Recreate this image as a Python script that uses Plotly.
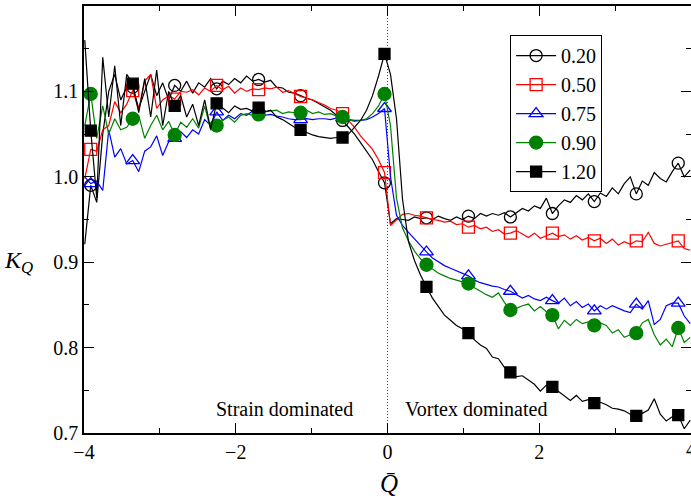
import numpy as np
import plotly.graph_objects as go

# Q-bar grid of the curves (markers sit on every 7th sample starting at index 1)
q_line = np.round(np.linspace(-3.99, 3.99, 102), 4)
MARK_START, MARK_STEP = 1, 7

labels = ["0.20", "0.50", "0.75", "0.90", "1.20"]

k_020 = [0.921, 0.99, 0.97, 1.05, 1.1, 1.12, 1.09, 1.105, 1.105, 1.08,
         1.1, 1.12, 1.095, 1.11, 1.09, 1.107, 1.1, 1.112, 1.098, 1.11,
         1.105, 1.115, 1.103, 1.112, 1.108, 1.115, 1.11, 1.118, 1.112, 1.114,
         1.111, 1.113, 1.105, 1.104, 1.099, 1.098, 1.095, 1.092, 1.09, 1.086,
         1.082, 1.078, 1.072, 1.066, 1.058, 1.05, 1.04, 1.03, 1.02, 1.006,
         0.993, 0.945, 0.951, 0.95, 0.949, 0.953, 0.951, 0.952, 0.95, 0.954,
         0.951, 0.949, 0.953, 0.95, 0.954, 0.951, 0.957, 0.954, 0.957, 0.955,
         0.958, 0.953, 0.958, 0.963, 0.96, 0.966, 0.963, 0.975, 0.957, 0.966,
         0.973, 0.97, 0.978, 0.973, 0.98, 0.971, 0.981, 0.977, 0.987, 0.98,
         0.992, 1.0, 0.98, 0.995, 0.99, 1.005, 0.998, 0.994, 1.006, 1.016,
         1.0, 1.008]

k_050 = [0.998, 1.032, 1.03, 1.055, 1.06, 1.088, 1.075, 1.085, 1.101, 1.078,
         1.112, 1.12, 1.08, 1.09, 1.095, 1.091, 1.1, 1.099, 1.102, 1.096,
         1.104, 1.1, 1.107, 1.102, 1.106, 1.098, 1.104, 1.1, 1.103, 1.102,
         1.104, 1.103, 1.105, 1.099, 1.101, 1.097, 1.094, 1.092, 1.09, 1.087,
         1.084, 1.08, 1.078, 1.074, 1.066, 1.058, 1.048, 1.04, 1.032, 1.02,
         1.005, 0.943, 0.95, 0.956, 0.957, 0.955, 0.954, 0.952, 0.95, 0.949,
         0.947, 0.948, 0.944, 0.945, 0.941, 0.943, 0.939, 0.941, 0.936, 0.938,
         0.933, 0.934, 0.937, 0.933, 0.929, 0.934, 0.928, 0.931, 0.934, 0.93,
         0.932, 0.927, 0.931, 0.926, 0.929, 0.925, 0.928, 0.922, 0.927, 0.92,
         0.924, 0.921, 0.925, 0.924, 0.935, 0.922, 0.919, 0.921, 0.923, 0.925,
         0.916, 0.914]

k_075 = [1.0, 0.992, 0.995, 0.984, 1.055, 1.023, 1.033, 1.015, 1.019, 1.006,
         1.03, 1.035, 1.048, 1.025, 1.041, 1.045, 1.053, 1.046, 1.055, 1.05,
         1.067, 1.06, 1.076, 1.066, 1.072, 1.068, 1.074, 1.072, 1.077, 1.08,
         1.072, 1.073, 1.071, 1.07, 1.068, 1.067, 1.067, 1.068, 1.067, 1.068,
         1.068, 1.067, 1.069, 1.069, 1.067, 1.066, 1.066, 1.067, 1.07, 1.074,
         1.08, 1.0, 0.955, 0.943, 0.935, 0.927, 0.92, 0.912, 0.905, 0.9,
         0.896, 0.893, 0.89, 0.887, 0.884, 0.879, 0.876, 0.874, 0.872, 0.871,
         0.868, 0.866, 0.862, 0.858, 0.861, 0.857, 0.855, 0.859, 0.855, 0.852,
         0.858, 0.849, 0.854, 0.847, 0.851, 0.843, 0.849, 0.845, 0.849, 0.846,
         0.843, 0.841, 0.851, 0.845, 0.855, 0.827, 0.833, 0.849, 0.852, 0.852,
         0.837, 0.828]

k_090 = [1.06, 1.097, 1.045, 1.083, 1.05, 1.068, 1.055, 1.058, 1.068, 1.072,
         1.045, 1.06, 1.072, 1.055, 1.065, 1.049, 1.064, 1.058, 1.068, 1.057,
         1.083, 1.055, 1.06, 1.066, 1.07, 1.064, 1.072, 1.074, 1.072, 1.073,
         1.076, 1.077, 1.078, 1.074, 1.076, 1.075, 1.075, 1.078, 1.074, 1.076,
         1.073, 1.074, 1.071, 1.07, 1.067, 1.065, 1.066, 1.068, 1.074, 1.083,
         1.097, 1.06, 0.975, 0.94, 0.925, 0.913, 0.904, 0.897, 0.892, 0.887,
         0.884, 0.881, 0.879, 0.877, 0.875, 0.87, 0.866, 0.862, 0.859, 0.864,
         0.853, 0.844, 0.846, 0.849, 0.851, 0.843, 0.848, 0.842, 0.838, 0.822,
         0.832, 0.826, 0.833, 0.828, 0.83, 0.826, 0.829, 0.826, 0.817, 0.821,
         0.812, 0.815, 0.817, 0.829, 0.833, 0.815, 0.803, 0.81, 0.801, 0.823,
         0.806, 0.812]

k_120 = [1.16, 1.054, 0.975, 1.14, 1.07, 1.13, 1.06, 1.12, 1.109, 1.075,
         1.115, 1.07, 1.125, 1.06, 1.1, 1.083, 1.095, 1.07, 1.085, 1.06,
         1.09, 1.056, 1.086, 1.08, 1.075, 1.083, 1.079, 1.08, 1.077, 1.081,
         1.076, 1.078, 1.07, 1.067, 1.063, 1.058, 1.055, 1.052, 1.049, 1.047,
         1.046, 1.045, 1.046, 1.046, 1.05, 1.058, 1.066, 1.078, 1.095, 1.118,
         1.144, 1.12, 1.068, 0.974, 0.924, 0.902, 0.885, 0.871, 0.858, 0.848,
         0.838, 0.832, 0.826, 0.822, 0.817, 0.809, 0.803, 0.799, 0.789, 0.787,
         0.777, 0.771, 0.766, 0.767, 0.762, 0.757, 0.749, 0.756, 0.754, 0.749,
         0.744, 0.738, 0.744, 0.737, 0.739, 0.735, 0.736, 0.733, 0.729, 0.728,
         0.726, 0.722, 0.72, 0.723, 0.727, 0.74, 0.722, 0.714, 0.719, 0.721,
         0.705, 0.715]

x_tick_vals = [-4, -2, 0, 2, 4]
x_tick_text = ["\u22124", "\u22122", "0", "2", "4"]
y_tick_vals = [0.7, 0.8, 0.9, 1.0, 1.1]
y_tick_text = ["0.7", "0.8", "0.9", "1.0", "1.1"]

series = [k_020, k_050, k_075, k_090, k_120]
colors = ["black", "#ff0000", "#0000ff", "#008000", "black"]
symbols = ["circle-open", "square-open", "triangle-up-open", "circle", "square"]
msizes = [12, 12, 12, 13, 11]

FONT = "Liberation Serif, Times New Roman, Times, DejaVu Serif, serif"

fig = go.Figure()

# legend entries (line + marker), drawn first so legend order matches
for lab, c, s, ms in zip(labels, colors, symbols, msizes):
    fig.add_trace(go.Scatter(x=[None], y=[None], mode="lines+markers", name=lab,
                             line=dict(color=c, width=1.2),
                             marker=dict(symbol=s, size=ms, color=c,
                                         line=dict(color=c, width=1.3))))

for ys, c, s, ms in zip(series, colors, symbols, msizes):
    assert len(ys) == len(q_line)
    fig.add_trace(go.Scatter(x=q_line, y=ys, mode="lines", showlegend=False,
                             line=dict(color=c, width=1.2), hoverinfo="skip"))
    fig.add_trace(go.Scatter(x=q_line[MARK_START::MARK_STEP], y=ys[MARK_START::MARK_STEP],
                             mode="markers", showlegend=False,
                             marker=dict(symbol=s, size=ms, color=c,
                                         line=dict(color=c, width=1.3))))

fig.add_shape(type="line", x0=0, x1=0, y0=0.7, y1=1.2, xref="x", yref="y",
              line=dict(color="#444444", width=1, dash="1px,2px"), layer="below")

fig.add_annotation(x=-0.43, y=0.728, text="Strain dominated", showarrow=False,
                   xanchor="right", yanchor="middle",
                   font=dict(family=FONT, size=20, color="black"))
fig.add_annotation(x=0.2, y=0.728, text="Vortex dominated", showarrow=False,
                   xanchor="left", yanchor="middle",
                   font=dict(family=FONT, size=20, color="black"))

fig.add_annotation(x=-0.108, y=0.40, xref="paper", yref="paper",
                   xanchor="center", yanchor="middle",
                   text="<i>K</i><sub><i>Q</i></sub>", showarrow=False,
                   font=dict(family=FONT, size=24, color="black"))
fig.add_annotation(x=0.5025, y=-0.118, xref="paper", yref="paper",
                   xanchor="center", yanchor="middle",
                   text="<i>Q\u0304</i>", showarrow=False,
                   font=dict(family=FONT, size=25, color="black"))
# the last x tick label sits on the clipped right edge of the figure
fig.add_annotation(x=x_tick_vals[-1], y=0.0, xref="x", yref="paper",
                   xanchor="center", yanchor="top", yshift=-3,
                   text=x_tick_text[-1], showarrow=False,
                   font=dict(family=FONT, size=20, color="black"))

axis_common = dict(showgrid=False, zeroline=False, showline=True, linecolor="black",
                   linewidth=1.5, mirror="ticks", ticks="inside", ticklen=10,
                   tickwidth=1, tickcolor="black",
                   tickfont=dict(family=FONT, size=20, color="black"))

fig.update_xaxes(range=[-4, 4], tickvals=x_tick_vals[:-1], ticktext=x_tick_text[:-1],
                 minor=dict(tickvals=[-3, -1, 1, 3], ticklen=5, ticks="inside",
                            tickcolor="black", tickwidth=1),
                 **axis_common)
fig.update_yaxes(range=[0.7, 1.2], tickvals=y_tick_vals, ticktext=y_tick_text,
                 minor=dict(tickvals=[0.75, 0.85, 0.95, 1.05, 1.15], ticklen=5,
                            ticks="inside", tickcolor="black", tickwidth=1),
                 **axis_common)

fig.update_layout(
    width=691, height=500,
    margin=dict(l=84, r=0, t=6, b=67, autoexpand=False),
    plot_bgcolor="white", paper_bgcolor="white",
    font=dict(family=FONT, color="black"),
    legend=dict(x=0.702, y=0.932, xanchor="left", yanchor="top",
                bordercolor="black", borderwidth=1, bgcolor="white",
                font=dict(family=FONT, size=20, color="black"),
                itemwidth=40, tracegroupgap=0),
)

fig.write_html("out.html")
